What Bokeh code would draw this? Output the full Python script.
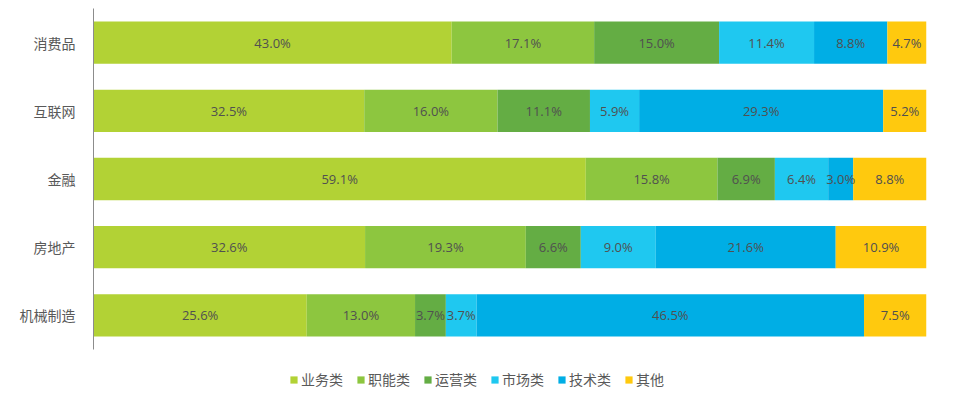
from bokeh.plotting import figure
from bokeh.models import ColumnDataSource, Legend, LegendItem, Range1d, FixedTicker
from bokeh.core.properties import value
from bokeh.embed import file_html
from bokeh.resources import INLINE

categories = ["消费品", "互联网", "金融", "房地产", "机械制造"]
series = ["业务类", "职能类", "运营类", "市场类", "技术类", "其他"]
yewu = [43.0, 32.5, 59.1, 32.6, 25.6]
zhineng = [17.1, 16.0, 15.8, 19.3, 13.0]
yunying = [15.0, 11.1, 6.9, 6.6, 3.7]
shichang = [11.4, 5.9, 6.4, 9.0, 3.7]
jishu = [8.8, 29.3, 3.0, 21.6, 46.5]
qita = [4.7, 5.2, 8.8, 10.9, 7.5]
colors = ["#B2D235", "#8DC63F", "#64AD44", "#1FC8F0", "#00AEE5", "#FFC90E"]

values = [yewu, zhineng, yunying, shichang, jishu, qita]
n = len(categories)
ypos = [n - 1 - i for i in range(n)]  # first category on top
data = {"y": ypos}
for name, vals in zip(series, values):
    data[name] = vals
source = ColumnDataSource(data)

# extra room below the bars for the legend (in category units)
extra = 50 / 68.2
p = figure(frame_width=833, frame_height=391, output_backend="svg", toolbar_location=None,
           y_range=Range1d(-0.5 - extra, n - 0.5),
           x_range=Range1d(0, 100), x_axis_location=None,
           min_border_left=93, min_border_right=14, min_border_top=8, min_border_bottom=0)

renderers = p.hbar_stack(series, y="y", height=0.62, color=colors, source=source, line_color=None)

# labels
lx, ly, lt = [], [], []
for i in range(n):
    left = 0.0
    for vals in values:
        v = vals[i]
        lx.append(left + v / 2)
        ly.append(ypos[i])
        lt.append(f"{v:.1f}%")
        left += v
p.text(x=lx, y=ly, text=lt, text_align="center", text_baseline="middle",
       text_font=value("Open Sans"), text_font_size="13px", text_color="#505050")

p.xgrid.visible = False
p.ygrid.visible = False
p.outline_line_color = None
p.yaxis.ticker = FixedTicker(ticks=ypos)
p.yaxis.major_label_overrides = {y: c for y, c in zip(ypos, categories)}
p.yaxis.bounds = (-0.5, n - 0.5)
p.yaxis.major_tick_line_color = None
p.yaxis.minor_tick_line_color = None
p.yaxis.axis_line_color = "#8c8c8c"
p.yaxis.major_label_text_font = "Noto Sans CJK SC"
p.yaxis.major_label_text_font_size = "14px"
p.yaxis.major_label_text_color = "#595959"
p.yaxis.major_label_standoff = 12

legend = Legend(items=[LegendItem(label=s, renderers=[r]) for s, r in zip(series, renderers)],
                orientation="horizontal", location=(196, 10),
                label_text_font="Noto Sans CJK SC", label_text_font_size="14px",
                label_text_color="#595959", glyph_width=9, glyph_height=9,
                spacing=13, label_standoff=3, border_line_color=None,
                background_fill_alpha=0, padding=4, margin=0)
p.add_layout(legend, "center")

open("out.html", "w").write(file_html(p, INLINE))
